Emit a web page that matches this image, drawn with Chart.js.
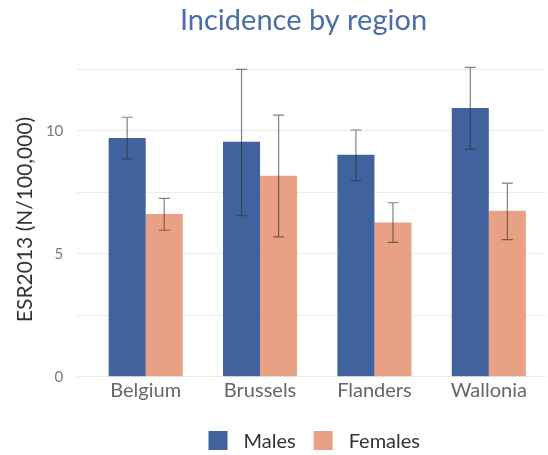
<!DOCTYPE html>
<html>
<head>
<meta charset="utf-8">
<script src="https://cdn.jsdelivr.net/npm/chart.js@4"></script>
<style>
  html, body { margin: 0; padding: 0; background: #ffffff; }
  #wrap { width: 548px; height: 455px; position: relative; }
</style>
</head>
<body>
<div id="wrap"><canvas id="c" width="548" height="455"></canvas></div>
<script>
const categories = ['Belgium', 'Brussels', 'Flanders', 'Wallonia'];
const males = [9.72, 9.56, 9.03, 10.94];
const malesLow = [8.86, 6.55, 7.98, 9.25];
const malesHigh = [10.56, 12.51, 10.04, 12.59];
const females = [6.62, 8.18, 6.28, 6.75];
const femalesLow = [5.96, 5.69, 5.47, 5.58];
const femalesHigh = [7.26, 10.65, 7.08, 7.88];
const yTickValues = [0, 2.5, 5, 7.5, 10, 12.5];
const yLabelValues = [0, 5, 10];
const titleText = 'Incidence by region';
const yTitleText = 'ESR2013 (N/100,000)';

const FONT = 'Lato';

const errorBarPlugin = {
  id: 'errorBars',
  afterDatasetsDraw(chart) {
    const ctx = chart.ctx;
    const yScale = chart.scales.y;
    chart.data.datasets.forEach((ds, i) => {
      const meta = chart.getDatasetMeta(i);
      if (meta.hidden) return;
      meta.data.forEach((bar, j) => {
        const lo = yScale.getPixelForValue(ds.errLow[j]);
        const hi = yScale.getPixelForValue(ds.errHigh[j]);
        const x = bar.x;
        ctx.save();
        ctx.strokeStyle = 'rgba(45,45,45,0.6)';
        ctx.lineWidth = 1.2;
        ctx.beginPath();
        ctx.moveTo(x, lo); ctx.lineTo(x, hi);
        ctx.moveTo(x - 5.5, lo); ctx.lineTo(x + 5.5, lo);
        ctx.moveTo(x - 5.5, hi); ctx.lineTo(x + 5.5, hi);
        ctx.stroke();
        ctx.restore();
      });
    });
  }
};

const titleLegendPlugin = {
  id: 'titleLegend',
  afterDraw(chart) {
    const ctx = chart.ctx;
    ctx.save();
    // title
    ctx.font = '29px ' + FONT;
    ctx.fillStyle = '#4a6ea8';
    ctx.textAlign = 'center';
    ctx.textBaseline = 'alphabetic';
    ctx.fillText(titleText, 303.5, 30);
    // legend
    ctx.font = '20px ' + FONT;
    const box = 19, gapText = 16, gapItem = 18;
    const items = chart.data.datasets.map(ds => ({label: ds.label, color: ds.backgroundColor, w: ctx.measureText(ds.label).width}));
    let total = 0;
    items.forEach((it, k) => { total += box + gapText + it.w + (k < items.length - 1 ? gapItem : 0); });
    const area = chart.chartArea;
    let x = (area.left + area.right) / 2 - total / 2 - 3;
    const cy = 440.5;
    items.forEach(it => {
      ctx.fillStyle = it.color;
      ctx.fillRect(x, cy - box / 2, box, box);
      x += box + gapText;
      ctx.fillStyle = '#333333';
      ctx.textAlign = 'left';
      ctx.textBaseline = 'middle';
      ctx.fillText(it.label, x, cy + 1);
      x += it.w + gapItem;
    });
    ctx.restore();
  }
};

new Chart(document.getElementById('c'), {
  type: 'bar',
  data: {
    labels: categories,
    datasets: [
      { label: 'Males', data: males, errLow: malesLow, errHigh: malesHigh,
        backgroundColor: '#40639e', borderWidth: 0,
        categoryPercentage: 0.648, barPercentage: 1.0 },
      { label: 'Females', data: females, errLow: femalesLow, errHigh: femalesHigh,
        backgroundColor: '#e9a186', borderWidth: 0,
        categoryPercentage: 0.648, barPercentage: 1.0 }
    ]
  },
  options: {
    responsive: false,
    animation: false,
    devicePixelRatio: 1,
    layout: { padding: { top: 62.2, right: 2, bottom: 44.3, left: 0 } },
    plugins: {
      legend: { display: false },
      title: { display: false },
      tooltip: { enabled: false }
    },
    scales: {
      x: {
        grid: { display: false },
        border: { display: false },
        ticks: { font: { family: FONT, size: 20 }, color: '#666666', padding: -6 },
        afterFit(scale) { scale.height = 34; }
      },
      y: {
        min: 0,
        max: 12.8,
        grid: { color: '#ebebeb', lineWidth: 1, drawTicks: true, tickLength: 11.5, tickColor: '#ebebeb' },
        border: { display: false },
        ticks: {
          stepSize: 2.5,
          includeBounds: false,
          padding: 13.7,
          font: { family: FONT, size: 15 },
          color: '#7a7a7a',
          callback: (v) => yLabelValues.includes(v) ? String(v) : ''
        },
        afterBuildTicks(scale) { scale.ticks = yTickValues.map(v => ({ value: v })); },
        title: { display: true, text: yTitleText, font: { family: FONT, size: 21 }, color: '#333333', padding: { top: 12.2, bottom: 0 } },
        afterFit(scale) { scale.width = 88.5; }
      }
    }
  },
  plugins: [errorBarPlugin, titleLegendPlugin]
});
</script>
</body>
</html>
